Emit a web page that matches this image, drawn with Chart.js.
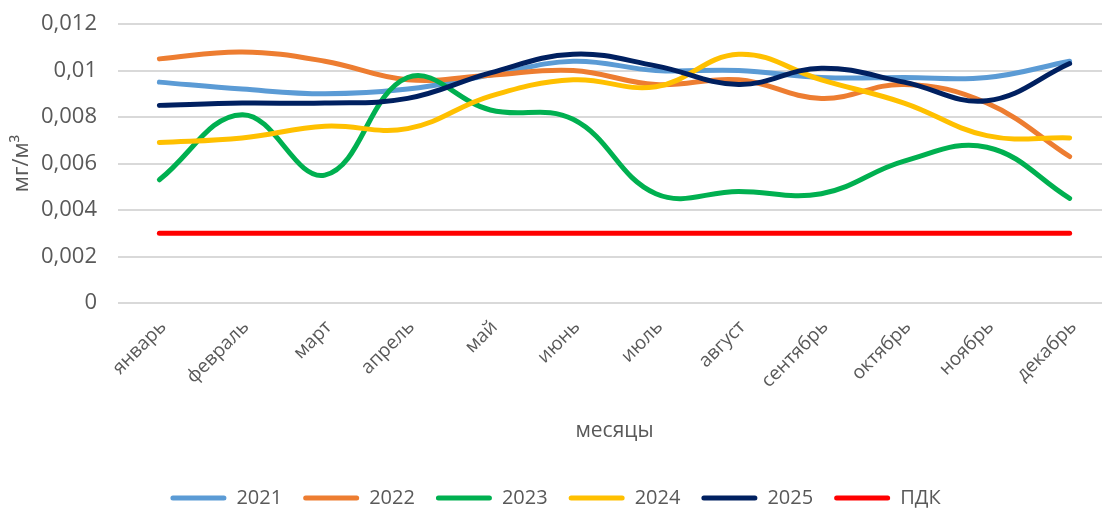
<!DOCTYPE html>
<html lang="ru">
<head>
<meta charset="utf-8">
<title>мг/м³ по месяцам</title>
<script src="https://cdn.jsdelivr.net/npm/chart.js@4.4.1/dist/chart.umd.min.js"></script>
<style>
    html, body { margin: 0; padding: 0; background: #ffffff; overflow: hidden; }
    #wrap { width: 1112px; height: 518px; }
</style>
</head>
<body>
<div id="wrap"><canvas id="chart" width="1112" height="518"></canvas></div>
<script>
// Месяцы (ось X)
const months = ['январь', 'февраль', 'март', 'апрель', 'май', 'июнь',
    'июль', 'август', 'сентябрь', 'октябрь', 'ноябрь', 'декабрь'];

// Подписи оси Y
const yTickLabels = ['0', '0,002', '0,004', '0,006', '0,008', '0,01', '0,012'];

// Значения по годам, мг/м³
const y2021 = [0.0095, 0.0092, 0.0090, 0.0092, 0.0098, 0.0104, 0.0100, 0.0100, 0.0097, 0.0097, 0.0097, 0.0104];
const y2022 = [0.0105, 0.0108, 0.0104, 0.0096, 0.0098, 0.0100, 0.0094, 0.0096, 0.0088, 0.0094, 0.0086, 0.0063];
const y2023 = [0.0053, 0.0081, 0.0055, 0.0097, 0.0083, 0.0079, 0.0047, 0.0048, 0.0047, 0.0061, 0.0067, 0.0045];
const y2024 = [0.0069, 0.0071, 0.0076, 0.0075, 0.0089, 0.0096, 0.0093, 0.0107, 0.0096, 0.0086, 0.0072, 0.0071];
const y2025 = [0.0085, 0.0086, 0.0086, 0.0088, 0.0099, 0.0107, 0.0102, 0.0094, 0.0101, 0.0095, 0.0087, 0.0103];
const pdk   = [0.003, 0.003, 0.003, 0.003, 0.003, 0.003, 0.003, 0.003, 0.003, 0.003, 0.003, 0.003];

const seriesNames = ['2021', '2022', '2023', '2024', '2025', 'ПДК'];
const seriesData = [y2021, y2022, y2023, y2024, y2025, pdk];
const seriesColors = ['#5b9bd5', '#ed7d31', '#00b050', '#ffc000', '#002060', '#ff0000'];

const FONT = "'Open Sans', 'Liberation Sans', sans-serif";
const TEXT = '#595959';

const datasets = seriesNames.map((name, i) => ({
    label: name,
    data: seriesData[i],
    borderColor: seriesColors[i],
    backgroundColor: seriesColors[i],
    borderWidth: 5,
    borderCapStyle: 'round',
    borderJoinStyle: 'round',
    tension: 0.4,
    pointRadius: 0,
    pointHoverRadius: 0,
    // последние серии рисуются поверх, как в Excel
    order: seriesNames.length - i
}));

new Chart(document.getElementById('chart'), {
    type: 'line',
    data: { labels: months, datasets },
    options: {
        responsive: false,
        animation: false,
        layout: { padding: { top: 24, right: 1, bottom: 0, left: 0 } },
        plugins: {
            tooltip: { enabled: false },
            legend: {
                position: 'bottom',
                labels: {
                    color: TEXT,
                    font: { family: FONT, size: 20 },
                    boxWidth: 56,
                    boxHeight: 5,
                    padding: 21,
                    useBorderRadius: true,
                    borderRadius: 2.5,
                    sort: (a, b) => a.datasetIndex - b.datasetIndex,
                    generateLabels: (c) =>
                        Chart.defaults.plugins.legend.labels.generateLabels(c)
                            .map((l) => Object.assign(l, { lineWidth: 0 }))
                }
            }
        },
        scales: {
            x: {
                offset: true,
                grid: { display: false },
                border: { display: false },
                ticks: {
                    color: TEXT,
                    font: { family: FONT, size: 19 },
                    minRotation: 45,
                    maxRotation: 45,
                    autoSkip: false,
                    padding: 5,
                    labelOffset: 4
                },
                title: {
                    display: true,
                    text: 'месяцы',
                    color: TEXT,
                    font: { family: FONT, size: 21 },
                    padding: { top: 4, bottom: 23 }
                },
                afterFit: (s) => { s.height = 164; }
            },
            y: {
                min: 0,
                max: 0.012,
                grid: { color: '#d9d9d9', lineWidth: 2, drawTicks: false },
                border: { display: false },
                ticks: {
                    stepSize: 0.002,
                    color: TEXT,
                    // малый lineHeight, чтобы подписи не сдвигали верх области построения
                    font: { family: FONT, size: 22, lineHeight: 0.1 },
                    padding: 21,
                    callback: (v, i) => yTickLabels[i]
                },
                title: {
                    display: true,
                    text: 'мг/м³',
                    color: TEXT,
                    font: { family: FONT, size: 22 },
                    padding: { top: 9, bottom: 4 }
                },
                afterFit: (s) => { s.width = 118; }
            }
        }
    }
});
</script>
</body>
</html>
